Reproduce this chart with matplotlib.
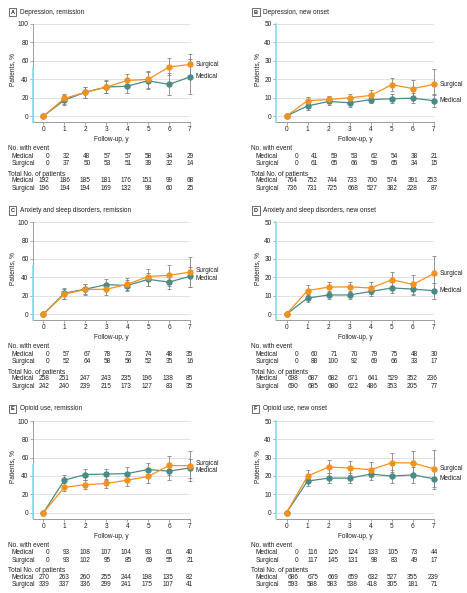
import matplotlib
matplotlib.use("Agg")
import matplotlib.pyplot as plt
from matplotlib import font_manager

years = [0, 1, 2, 3, 4, 5, 6, 7]

# A Depression, remission
a_med = [0, 17.2, 25.9, 31.5, 32.4, 38.4, 34.3, 42.6]
a_surg = [0, 19.1, 25.8, 31.4, 38.6, 39.8, 53.3, 56.0]
a_med_lo = [0, 11.6, 19.9, 24.5, 24.5, 29.5, 22.4, 23.5]
a_med_hi = [0, 23.0, 32.0, 38.5, 40.0, 47.5, 47.0, 61.5]
a_surg_lo = [0, 13.5, 20.0, 25.0, 31.0, 30.5, 44.5, 45.0]
a_surg_hi = [0, 24.0, 32.0, 38.6, 46.2, 48.4, 62.8, 67.1]
a_ev_med = [0, 32, 48, 57, 57, 58, 34, 29]
a_ev_surg = [0, 37, 50, 53, 51, 39, 32, 14]
a_n_med = [192, 186, 185, 181, 176, 151, 99, 68]
a_n_surg = [196, 194, 194, 169, 132, 98, 60, 25]

# B Depression, new onset
b_med = [0, 5.5, 7.9, 7.2, 8.9, 9.4, 9.7, 8.3]
b_surg = [0, 8.3, 9.0, 9.9, 11.2, 17.0, 14.9, 17.2]
b_med_lo = [0, 3.4, 5.8, 5.1, 6.9, 6.9, 6.9, 4.7]
b_med_hi = [0, 7.2, 10.0, 9.3, 10.9, 11.9, 12.5, 12.0]
b_surg_lo = [0, 6.3, 7.2, 7.4, 8.5, 13.4, 10.5, 11.6]
b_surg_hi = [0, 10.5, 11.0, 12.1, 14.1, 20.9, 19.5, 25.3]
b_ev_med = [0, 41, 59, 53, 62, 54, 38, 21]
b_ev_surg = [0, 61, 65, 66, 59, 65, 34, 15]
b_n_med = [764, 752, 744, 733, 700, 574, 391, 253]
b_n_surg = [736, 731, 725, 668, 527, 382, 228, 87]

# C Anxiety and sleep disorders, remission
c_med = [0, 22.7, 27.1, 32.1, 31.1, 37.8, 34.8, 41.2]
c_surg = [0, 21.7, 26.8, 27.0, 32.4, 40.9, 42.2, 45.7]
c_med_lo = [0, 16.5, 21.5, 26.5, 25.1, 31.0, 27.3, 29.8]
c_med_hi = [0, 28.0, 32.4, 37.8, 37.0, 45.0, 43.0, 51.0]
c_surg_lo = [0, 16.0, 21.1, 20.4, 26.0, 30.5, 31.0, 30.0]
c_surg_hi = [0, 27.0, 32.4, 33.0, 39.3, 49.1, 53.1, 61.8]
c_ev_med = [0, 57, 67, 78, 73, 74, 48, 35]
c_ev_surg = [0, 52, 64, 58, 56, 52, 35, 16]
c_n_med = [258, 251, 247, 243, 235, 196, 138, 85]
c_n_surg = [242, 240, 239, 215, 173, 127, 83, 35]

# D Anxiety and sleep disorders, new onset
d_med = [0, 8.7, 10.4, 10.4, 12.3, 14.2, 13.6, 12.7]
d_surg = [0, 12.8, 14.7, 14.8, 14.2, 18.7, 16.1, 22.1]
d_med_lo = [0, 6.7, 8.2, 8.2, 9.8, 11.4, 10.5, 8.2]
d_med_hi = [0, 11.0, 12.5, 12.6, 14.8, 17.2, 17.2, 16.8]
d_surg_lo = [0, 10.3, 12.0, 12.1, 11.1, 14.6, 11.0, 13.0]
d_surg_hi = [0, 15.6, 17.2, 17.2, 17.2, 22.8, 21.2, 31.5]
d_ev_med = [0, 60, 71, 70, 79, 75, 48, 30]
d_ev_surg = [0, 88, 100, 92, 69, 66, 33, 17]
d_n_med = [698, 687, 682, 671, 641, 529, 352, 236]
d_n_surg = [690, 685, 680, 622, 486, 353, 205, 77]

# E Opioid use, remission
e_med = [0, 35.4, 41.5, 42.0, 42.6, 47.0, 45.2, 48.8]
e_surg = [0, 27.6, 30.4, 31.8, 35.3, 39.4, 51.4, 51.2]
e_med_lo = [0, 30.0, 35.5, 36.0, 36.5, 40.0, 35.8, 37.5]
e_med_hi = [0, 40.9, 47.8, 47.8, 49.3, 53.6, 54.5, 59.0]
e_surg_lo = [0, 23.4, 25.2, 26.3, 28.5, 31.8, 41.5, 35.0]
e_surg_hi = [0, 32.0, 35.5, 37.0, 41.5, 46.5, 61.3, 66.8]
e_ev_med = [0, 93, 108, 107, 104, 93, 61, 40]
e_ev_surg = [0, 93, 102, 95, 85, 69, 55, 21]
e_n_med = [270, 263, 260, 255, 244, 198, 135, 82]
e_n_surg = [339, 337, 336, 299, 241, 175, 107, 41]

# F Opioid use, new onset
f_med = [0, 17.2, 18.8, 18.8, 21.0, 19.9, 20.6, 18.4]
f_surg = [0, 19.9, 24.9, 24.3, 23.4, 27.2, 27.1, 23.9]
f_med_lo = [0, 14.4, 15.9, 15.9, 17.7, 16.4, 16.2, 13.0]
f_med_hi = [0, 20.0, 21.8, 21.8, 24.2, 23.4, 25.0, 23.5]
f_surg_lo = [0, 16.6, 21.4, 20.7, 19.3, 22.2, 20.6, 14.0]
f_surg_hi = [0, 23.2, 28.5, 27.9, 27.6, 32.5, 33.6, 33.9]
f_ev_med = [0, 116, 126, 124, 133, 105, 73, 44]
f_ev_surg = [0, 117, 145, 131, 98, 83, 49, 17]
f_n_med = [686, 675, 669, 659, 632, 527, 355, 239]
f_n_surg = [593, 588, 583, 538, 418, 305, 181, 71]

# narrow font if there is one, otherwise a slightly smaller regular sans
installed = {f.name for f in font_manager.fontManager.ttflist}
if 'Liberation Sans Narrow' in installed:
    plt.rcParams['font.family'] = ['Liberation Sans Narrow', 'DejaVu Sans']
    fs = 5
else:
    plt.rcParams['font.family'] = ['Liberation Sans', 'DejaVu Sans']
    fs = 4.7

W, H = 467, 593
ORANGE = '#f4921f'
TEAL = '#4a8b87'
GRID = '#e2e2e2'
TXT = '#231f20'
CYAN = '#86dfec'

panels = [
    ('A', 'Depression, remission', 0, 0, 100, a_med, a_surg, a_med_lo, a_med_hi, a_surg_lo, a_surg_hi,
     a_ev_med, a_ev_surg, a_n_med, a_n_surg, None),
    ('B', 'Depression, new onset', 1, 0, 50, b_med, b_surg, b_med_lo, b_med_hi, b_surg_lo, b_surg_hi,
     b_ev_med, b_ev_surg, b_n_med, b_n_surg, None),
    ('C', 'Anxiety and sleep disorders, remission', 0, 1, 100, c_med, c_surg, c_med_lo, c_med_hi, c_surg_lo, c_surg_hi,
     c_ev_med, c_ev_surg, c_n_med, c_n_surg, (47.8, 38.8)),
    ('D', 'Anxiety and sleep disorders, new onset', 1, 1, 50, d_med, d_surg, d_med_lo, d_med_hi, d_surg_lo, d_surg_hi,
     d_ev_med, d_ev_surg, d_n_med, d_n_surg, None),
    ('E', 'Opioid use, remission', 0, 2, 100, e_med, e_surg, e_med_lo, e_med_hi, e_surg_lo, e_surg_hi,
     e_ev_med, e_ev_surg, e_n_med, e_n_surg, (54.0, 45.6)),
    ('F', 'Opioid use, new onset', 1, 2, 50, f_med, f_surg, f_med_lo, f_med_hi, f_surg_lo, f_surg_hi,
     f_ev_med, f_ev_surg, f_n_med, f_n_surg, None),
]

# layout in pixels
ax_left = [33, 276]
ax_right = [190, 434]
ax_top = [24, 222.3, 421]
ax_bot = [122, 320, 518.5]
head_x = [8, 251.3]
row_x = [12, 255.7]
col0 = [49.3, 298]
colstep = [20.6, 20.0]
ylab_x = [13, 257.3]


def fx(x):
    return x / W


def fy(y):
    return 1 - y / H


fig = plt.figure(figsize=(W / 100, H / 100), dpi=100)

for (letter, title, col, row, ymax, med, surg, mlo, mhi, slo, shi,
     ev_m, ev_s, n_m, n_s, lab_y) in panels:
    l, r, t, b = ax_left[col], ax_right[col], ax_top[row], ax_bot[row]
    ax = fig.add_axes([fx(l), fy(b), (r - l) / W, (b - t) / H])
    ax.set_xlim(-0.5, 7)
    ax.set_ylim(-ymax * 0.065, ymax)
    step = ymax / 5
    ticks = [step * i for i in range(6)]
    for tk in ticks:
        ax.axhline(tk, color=GRID, lw=0.7, zorder=0)
    ax.set_yticks(ticks)
    ax.set_yticklabels([str(int(tk)) for tk in ticks])
    ax.set_xticks(years)
    for s in ['top', 'right']:
        ax.spines[s].set_visible(False)
    ax.spines['left'].set_color('#9a9a9a')
    ax.spines['bottom'].set_color('#9a9a9a')
    ax.spines['left'].set_linewidth(0.7)
    ax.spines['bottom'].set_linewidth(0.7)
    ax.tick_params(length=2.2, width=0.6, color='#9a9a9a', labelsize=fs, labelcolor=TXT, pad=1)
    if col == 1:
        ax.spines['left'].set_color(CYAN)
        ax.spines['left'].set_linewidth(1.2)
    else:
        ax.plot([-0.5, -0.5], [-ymax * 0.065, ymax * 0.52], color=CYAN, lw=1.2,
                clip_on=False, zorder=3)

    med_err = [[m - lo for m, lo in zip(med, mlo)], [hi - m for m, hi in zip(med, mhi)]]
    surg_err = [[s - lo for s, lo in zip(surg, slo)], [hi - s for s, hi in zip(surg, shi)]]
    ax.errorbar(years[1:], med[1:], yerr=[med_err[0][1:], med_err[1][1:]], fmt='none',
                ecolor='#858585', elinewidth=0.6, capsize=1.6, capthick=0.6, zorder=2, clip_on=False)
    ax.errorbar(years[1:], surg[1:], yerr=[surg_err[0][1:], surg_err[1][1:]], fmt='none',
                ecolor='#858585', elinewidth=0.6, capsize=1.6, capthick=0.6, zorder=2, clip_on=False)
    ax.plot(years, med, color=TEAL, lw=0.9, marker='o', ms=3.6, zorder=4, clip_on=False)
    ax.plot(years, surg, color=ORANGE, lw=0.9, marker='o', ms=3.6, zorder=5, clip_on=False)

    sy, my = (surg[-1], med[-1]) if lab_y is None else lab_y
    ax.text(7.25, sy, 'Surgical', fontsize=fs, color=TXT, va='center', ha='left')
    ax.text(7.25, my, 'Medical', fontsize=fs, color=TXT, va='center', ha='left')

    ax.set_xlabel('Follow-up, y', fontsize=fs, color=TXT, labelpad=2)
    fig.text(fx(ylab_x[col]), fy((t + b) / 2 - 3), 'Patients, %', fontsize=fs, color=TXT,
             rotation=90, ha='center', va='center')

    # title with boxed letter
    fig.text(fx(head_x[col] + 4.5), fy(t - 12), letter, fontsize=fs * 0.85, color=TXT, fontweight='bold',
             ha='center', va='center',
             bbox=dict(boxstyle='square,pad=0.35', fc='white', ec='#333333', lw=0.5))
    fig.text(fx(head_x[col] + 12), fy(t - 12), title, fontsize=fs, color=TXT, ha='left', va='center')

    # number at risk table
    rows = [(27, 'No. with event', None, head_x[col]),
            (34, 'Medical', ev_m, row_x[col]),
            (41.5, 'Surgical', ev_s, row_x[col]),
            (52, 'Total No. of patients', None, head_x[col]),
            (59, 'Medical', n_m, row_x[col]),
            (66, 'Surgical', n_s, row_x[col])]
    for dy, lab, vals, lx in rows:
        yy = fy(b + dy)
        fig.text(fx(lx), yy, lab, fontsize=fs, color=TXT, ha='left', va='center')
        if vals is not None:
            for i, v in enumerate(vals):
                fig.text(fx(col0[col] + colstep[col] * i), yy, str(v), fontsize=fs, color=TXT,
                         ha='right', va='center')

fig.savefig('out.png', dpi=100)
